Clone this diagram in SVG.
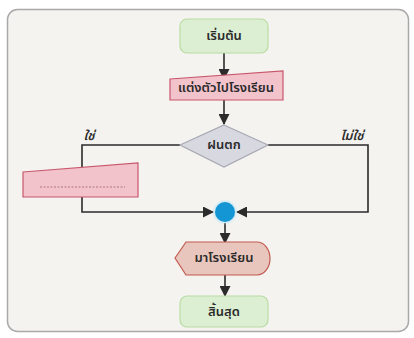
<svg xmlns="http://www.w3.org/2000/svg" width="414" height="338" viewBox="0 0 414 338">
<defs>
<marker id="ah" markerWidth="11" markerHeight="11" refX="10" refY="5.5" orient="auto" markerUnits="userSpaceOnUse">
<path d="M0,0 L11,5.5 L0,11 Z" fill="#2b2b2b"/>
</marker>
<radialGradient id="glow" cx="0.5" cy="0.5" r="0.5">
<stop offset="0.7" stop-color="#bfe6f7" stop-opacity="0.9"/>
<stop offset="1" stop-color="#bfe6f7" stop-opacity="0"/>
</radialGradient>
<style>
.t{font-family:"Noto Sans Thai","Noto Sans","DejaVu Sans",sans-serif;font-size:13px;font-weight:600;fill:#2a2a2a;text-anchor:middle;dominant-baseline:central}
.lbl{font-family:"Noto Sans Thai","Noto Sans","DejaVu Sans",sans-serif;font-size:12.5px;font-weight:600;font-style:italic;fill:#2a2a2a;text-anchor:middle}
.c{fill:none;stroke:#2b2b2b;stroke-width:1.6}
.term{fill:#dcefd2;stroke:#b8dca4;stroke-width:1.2}
.io{fill:#f3c3cc;stroke:#c8576c;stroke-width:1.2}
</style>
</defs>
<rect x="0" y="0" width="414" height="338" fill="#ffffff"/>
<rect x="7.5" y="9.5" width="401" height="322" rx="10" fill="#f4f3f0" stroke="#a9a9a9" stroke-width="1.5"/>
<g id="connectors">
<path class="c" d="M224,53 V79" marker-end="url(#ah)"/>
<path class="c" d="M224,100 V124" marker-end="url(#ah)"/>
<path class="c" d="M180,145 H82 V212 H213" marker-end="url(#ah)"/>
<path class="c" d="M268,145 H368 V212 H237" marker-end="url(#ah)"/>
<path class="c" d="M225,223 V243" marker-end="url(#ah)"/>
<path class="c" d="M225,275 V296" marker-end="url(#ah)"/>
</g>
<g id="start">
<rect class="term" x="180" y="19" width="88" height="34" rx="7"/>
<text class="t" x="224" y="36">เริ่มต้น</text>
</g>
<g id="dress">
<path class="io" d="M170,79 L283,71 L283,100 L170,100 Z"/>
<text class="t" x="226" y="88">แต่งตัวไปโรงเรียน</text>
</g>
<g id="rain">
<path d="M224,125 L268,145 L224,167 L180,145 Z" fill="#d8d8e0" stroke="#a8a8b4" stroke-width="1.2"/>
<text class="t" x="224" y="145">ฝนตก</text>
</g>
<text class="lbl" x="89" y="140">ใช่</text>
<text class="lbl" x="352" y="140">ไม่ใช่</text>
<g id="blank">
<path class="io" d="M23,172 L138,163 L138,197 L23,197 Z"/>
<line x1="40" y1="187" x2="125" y2="187" stroke="#b07080" stroke-width="1" stroke-dasharray="2,1.5"/>
</g>
<g id="merge">
<circle cx="225" cy="212" r="13" fill="url(#glow)"/>
<circle cx="225" cy="212" r="10" fill="#1596d4"/>
</g>
<g id="goschool">
<path d="M175,258 L186,242 H257 A13,16.5 0 0 1 257,275 H186 Z" fill="#e9c6bd" stroke="#c25a50" stroke-width="1.2"/>
<text class="t" x="224" y="258">มาโรงเรียน</text>
</g>
<g id="end">
<rect class="term" x="180" y="296" width="88" height="31" rx="7"/>
<text class="t" x="224" y="311.5">สิ้นสุด</text>
</g>
</svg>
